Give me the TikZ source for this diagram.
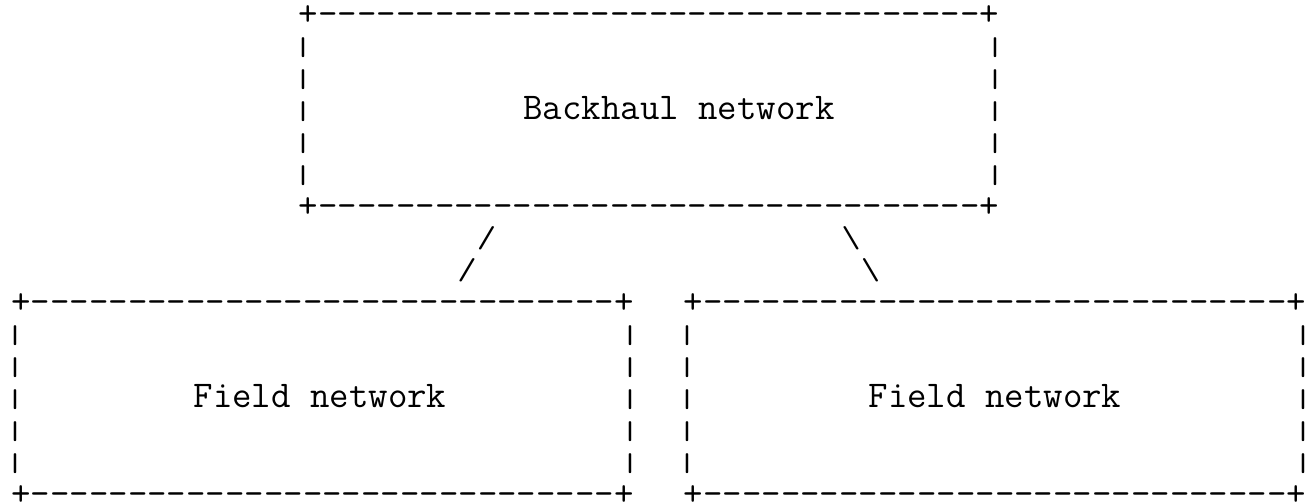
\documentclass[tikz,border=0pt]{standalone}
\usepackage{fontspec}
\newcommand{\pipechar}{\scalebox{1}[0.68]{|}}
\newcommand{\slashchar}{\scalebox{1}[0.8]{/}}
\newcommand{\bslashchar}{\scalebox{1}[0.8]{\textbackslash}}
\begin{document}
\begin{tikzpicture}[x=0.5pt,y=-0.5pt,
  ch/.style={inner sep=0pt,outer sep=0pt,anchor=center,
    font=\ttfamily\fontsize{18.88pt}{22pt}\selectfont},
  border/.style={ch,text height=0.5em,text depth=0pt},
  txt/.style={ch,anchor=base}]
\useasboundingbox (0,0) rectangle (1314,504);
\def\rowy#1{15+32*#1}
\def\bory#1{20.5+32*#1}
\def\piy#1{16+32*#1}
\def\basey#1{23.5+32*#1}
% ---------- Backhaul box ----------
\node[border] (btop) at (649,{\bory{0}}) {+----------------------------------+};
\node[border] (bbot) at (649,{\bory{6}}) {+----------------------------------+};
\foreach \r in {1,2,3,4,5}{
  \node[ch] (bl\r) at (303,{\piy{\r}}) {\pipechar};
  \node[ch] (br\r) at (995,{\piy{\r}}) {\pipechar};
}
\node[txt] (backhaul) at (679,{\basey{3}}) {Backhaul network};
% ---------- links ----------
\node[ch] (s1) at (486.5,{\rowy{7}-0.5}) {\slashchar};
\node[ch] (s2) at (467,{\rowy{8}-1}) {\slashchar};
\node[ch] (t1) at (851,{\rowy{7}-0.5}) {\bslashchar};
\node[ch] (t2) at (870.5,{\rowy{8}-1}) {\bslashchar};
% ---------- Field boxes ----------
\node[border] (ltop) at (322.5,{\bory{9}}) {+------------------------------+};
\node[border] (lbot) at (322.5,{\bory{15}}) {+------------------------------+};
\node[border] (rtop) at (995,{\bory{9}}) {+------------------------------+};
\node[border] (rbot) at (995,{\bory{15}}) {+------------------------------+};
\foreach \r in {10,11,12,13,14}{
  \node[ch] (ll\r) at (15,{\piy{\r}}) {\pipechar};
  \node[ch] (lr\r) at (630,{\piy{\r}}) {\pipechar};
  \node[ch] (rl\r) at (687,{\piy{\r}}) {\pipechar};
  \node[ch] (rr\r) at (1303,{\piy{\r}}) {\pipechar};
}
\node[txt] (field1) at (320,{\basey{12}}) {Field network};
\node[txt] (field2) at (995,{\basey{12}}) {Field network};
\end{tikzpicture}
\end{document}
